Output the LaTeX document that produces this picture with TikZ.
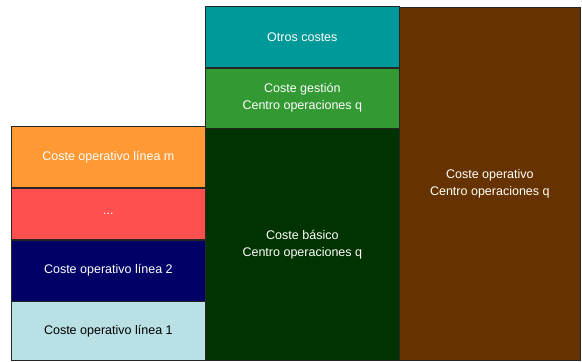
\documentclass[tikz,border=0pt]{standalone}
\usepackage{fontspec}
\setmainfont{Liberation Sans}
\usetikzlibrary{positioning}

\definecolor{linea1}{HTML}{B9E0E4}
\definecolor{linea2}{HTML}{000066}
\definecolor{lineax}{HTML}{FF5050}
\definecolor{lineam}{HTML}{FF9933}
\definecolor{basico}{HTML}{003300}
\definecolor{gestion}{HTML}{339933}
\definecolor{otros}{HTML}{009999}
\definecolor{operativo}{HTML}{663300}

\tikzset{
    costbox/.style={draw=black!85, line width=0.5pt, inner sep=0pt, align=center,
        text=white, font=\fontsize{8.9}{12}\selectfont},
    lineabox/.style={costbox, minimum width=4.85cm},
    centrobox/.style={costbox, minimum width=4.85cm},
}

\begin{document}
\begin{tikzpicture}
    \useasboundingbox (0,0) rectangle (14.55,9.025);

    % lineas de operacion
    \node[lineabox, fill=linea1, text=black, minimum height=1.475cm, anchor=south west] (l1) at (0.275,0) {Coste operativo línea 1};
    \node[lineabox, fill=linea2, minimum height=1.525cm, above=0pt of l1] (l2) {Coste operativo línea 2};
    \node[lineabox, fill=lineax, minimum height=1.275cm, above=0pt of l2] (lx) {...};
    \node[lineabox, fill=lineam, minimum height=1.525cm, above=0pt of lx] (lm) {Coste operativo línea m};

    % centro de operaciones
    \node[centrobox, fill=basico, minimum height=5.8cm, anchor=south west] (basico) at (5.125,0) {Coste básico\\Centro operaciones q};
    \node[centrobox, fill=gestion, minimum height=1.5cm, above=0pt of basico] (gestion) {Coste gestión\\Centro operaciones q};
    \node[centrobox, fill=otros, minimum height=1.525cm, above=0pt of gestion] (otros) {Otros costes};

    % total
    \node[costbox, fill=operativo, minimum width=4.525cm, minimum height=8.825cm, anchor=south west] (total) at (9.975,0) {Coste operativo\\Centro operaciones q};
\end{tikzpicture}
\end{document}
